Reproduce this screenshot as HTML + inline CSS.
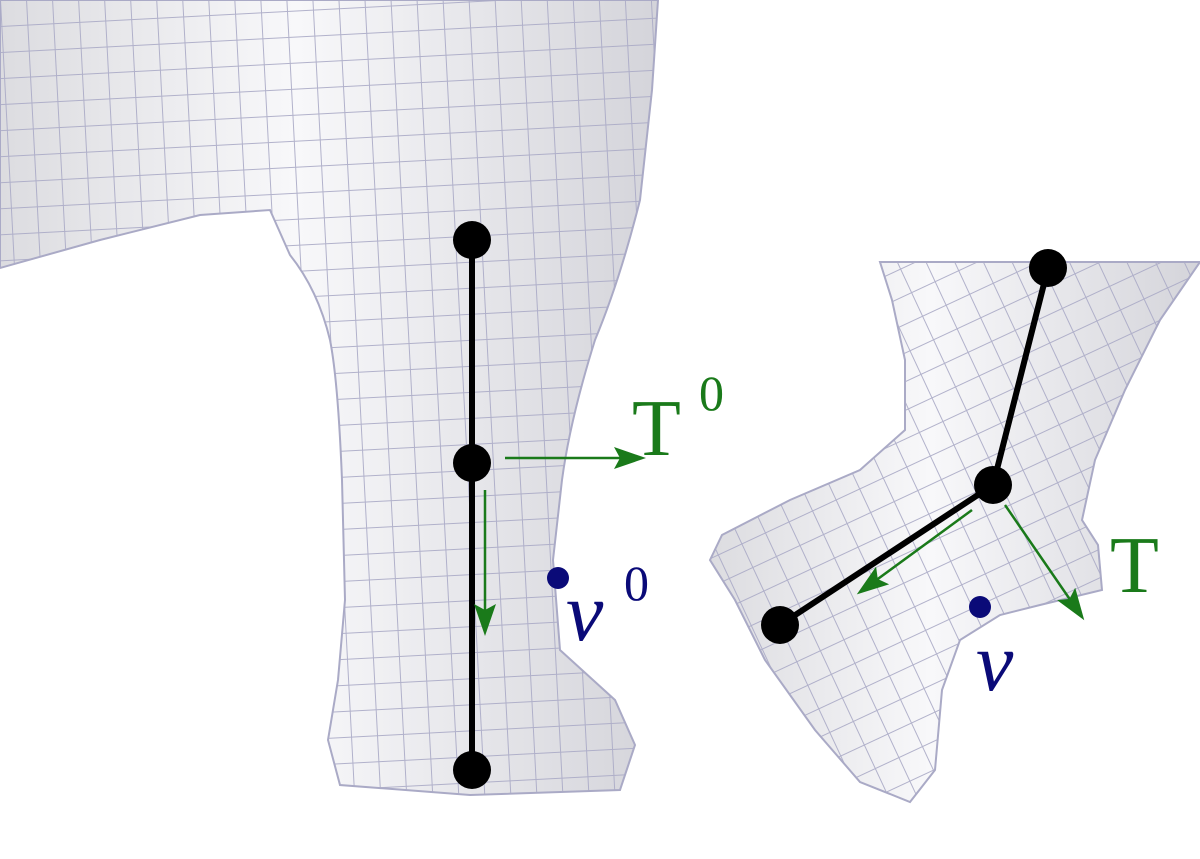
<!DOCTYPE html>
<html><head><meta charset="utf-8"><style>
html,body{margin:0;padding:0;background:#fff;width:1200px;height:859px;overflow:hidden}
svg{display:block}
text{font-family:"Liberation Serif",serif}
</style></head><body>
<svg width="1200" height="859" viewBox="0 0 1200 859" xmlns="http://www.w3.org/2000/svg">
<defs>
<linearGradient id="shade" x1="0" y1="0" x2="1" y2="0">
<stop offset="0" stop-color="#dcdce0"/><stop offset="0.45" stop-color="#f8f8fa"/><stop offset="1" stop-color="#d4d4da"/>
</linearGradient>
<pattern id="grid" width="26" height="26" patternUnits="userSpaceOnUse" patternTransform="rotate(-3)">
<path d="M0 0H26M0 0V26" stroke="#aaaac6" stroke-width="2" fill="none"/>
</pattern>
<pattern id="grid2" width="26" height="26" patternUnits="userSpaceOnUse" patternTransform="rotate(-25)">
<path d="M0 0H26M0 0V26" stroke="#aaaac6" stroke-width="2" fill="none"/>
</pattern>
<marker id="ah" markerWidth="32" markerHeight="22" refX="28" refY="11" orient="auto" markerUnits="userSpaceOnUse">
<path d="M0 0L32 11L0 22L6 11Z" fill="#1a7a1a"/>
</marker>
</defs>

<g>
<path d="M0 0H658L652 90L640 200Q620 280 595 340Q570 420 562 480L553 560L560 650L615 700L635 745L620 790L470 795L340 785L328 740L338 680L345 600L342 480Q338 380 330 340Q318 290 290 255L270 210L200 215L100 240L0 268Z" fill="url(#shade)" stroke="#aaaac6" stroke-width="2"/>
<path d="M0 0H658L652 90L640 200Q620 280 595 340Q570 420 562 480L553 560L560 650L615 700L635 745L620 790L470 795L340 785L328 740L338 680L345 600L342 480Q338 380 330 340Q318 290 290 255L270 210L200 215L100 240L0 268Z" fill="url(#grid)" opacity="0.9"/>
</g>

<g>
<path d="M880 262H1200L1160 320L1125 390L1095 460L1082 520L1098 545L1102 590L1040 605L1000 615L960 640L942 690L935 770L910 802L860 782L815 730L765 660L735 600L710 560L722 535L790 500L860 470L905 430L905 360L892 300Z" fill="url(#shade)" stroke="#aaaac6" stroke-width="2"/>
<path d="M880 262H1200L1160 320L1125 390L1095 460L1082 520L1098 545L1102 590L1040 605L1000 615L960 640L942 690L935 770L910 802L860 782L815 730L765 660L735 600L710 560L722 535L790 500L860 470L905 430L905 360L892 300Z" fill="url(#grid2)" opacity="0.9"/>
</g>

<g>
<line x1="472" y1="240" x2="472" y2="770" stroke="#000" stroke-width="6"/>
<circle cx="472" cy="240" r="19" fill="#000"/>
<circle cx="472" cy="463" r="19" fill="#000"/>
<circle cx="472" cy="770" r="19" fill="#000"/>
</g>
<g>
<line x1="505" y1="458" x2="642" y2="458" stroke="#1a7a1a" stroke-width="2.5" marker-end="url(#ah)"/>
<line x1="485" y1="490" x2="485" y2="632" stroke="#1a7a1a" stroke-width="2.5" marker-end="url(#ah)"/>
</g>
<text x="632" y="455" font-family="'Liberation Serif', serif" font-size="80" fill="#1a7a1a">T</text>
<text x="699" y="410" font-family="'Liberation Serif', serif" font-size="50" fill="#1a7a1a">0</text>
<circle cx="558" cy="578" r="11" fill="#0a0a78"/>
<text x="566" y="640" font-family="'Liberation Serif', serif" font-style="italic" font-size="84" fill="#0a0a78">v</text>
<text x="624" y="600" font-family="'Liberation Serif', serif" font-size="50" fill="#0a0a78">0</text>

<g>
<polyline points="1048,268 993,485 780,625" fill="none" stroke="#000" stroke-width="6"/>
<circle cx="1048" cy="268" r="19" fill="#000"/>
<circle cx="993" cy="485" r="19" fill="#000"/>
<circle cx="780" cy="625" r="19" fill="#000"/>
</g>
<g>
<line x1="972" y1="510" x2="860" y2="592" stroke="#1a7a1a" stroke-width="2.5" marker-end="url(#ah)"/>
<line x1="1005" y1="505" x2="1082" y2="617" stroke="#1a7a1a" stroke-width="2.5" marker-end="url(#ah)"/>
</g>
<text x="1110" y="592" font-family="'Liberation Serif', serif" font-size="80" fill="#1a7a1a">T</text>
<circle cx="980" cy="607" r="11" fill="#0a0a78"/>
<text x="976" y="690" font-family="'Liberation Serif', serif" font-style="italic" font-size="84" fill="#0a0a78">v</text>
</svg>
</body></html>
